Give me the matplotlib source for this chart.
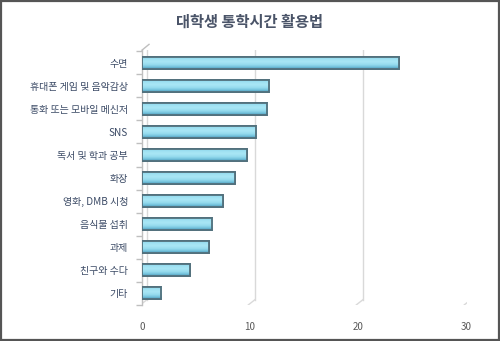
import numpy as np
import matplotlib.pyplot as plt
from matplotlib.patches import Rectangle

plt.rcParams['font.family'] = ['Noto Sans CJK KR', 'DejaVu Sans']

# 통학시간 활용 항목별 응답 (위에서부터)
categories = ['수면', '휴대폰 게임 및 음악감상', '통화 또는 모바일 메신저', 'SNS', '독서 및 학과 공부',
              '화장', '영화, DMB 시청', '음식물 섭취', '과제', '친구와 수다', '기타']
values = [23.8, 11.8, 11.6, 10.6, 9.7, 8.6, 7.5, 6.5, 6.2, 4.4, 1.8]
xticks = [0, 10, 20, 30]

fig = plt.figure(figsize=(5, 3.41), dpi=100)
fig.patch.set_facecolor('white')
fig.add_artist(Rectangle((0.002, 0.003), 0.996, 0.994, transform=fig.transFigure,
                         fill=False, edgecolor='#555555', linewidth=1.6))

ax = fig.add_axes([0.284, 0.106, 0.65, 0.747])
ax.set_xlim(0, 30.1)
ax.set_ylim(10.5, -0.55)

# 뒷벽 격자선과 바닥 사선
depth = 0.45
for t in xticks:
    ax.plot([t + depth, t + depth], [-0.55, 10.28], color='#d9d9d9', lw=1.0, zorder=0)
    ax.plot([t + depth, t - 0.15], [10.28, 10.5], color='#d9d9d9', lw=1.0, zorder=0)
ax.plot([0, depth + 0.2], [-0.55, -0.8], color='#bfbfbf', lw=1.0, clip_on=False)

# 원통 느낌의 막대: 세로 그라데이션을 막대 모양으로 잘라서 채움
grad = np.array([0.85, 0.95, 1.0, 0.95, 0.85, 0.7, 0.55])[:, None]
cmap = plt.matplotlib.colors.LinearSegmentedColormap.from_list('bar', ['#4f9fbf', '#86d2e8', '#a8e6f5'])
h = 0.52
edge = '#52707c'
for i, v in enumerate(values):
    bar = ax.barh(i, v, height=h, color='#8ad4ea', edgecolor=edge, linewidth=1.3, zorder=3)[0]
    im = ax.imshow(grad, cmap=cmap, vmin=0.5, vmax=1.0, aspect='auto',
                   extent=(0, v, i + h / 2, i - h / 2), zorder=4, interpolation='bilinear')
    im.set_clip_path(bar)
    ax.barh(i, v, height=h, fill=False, edgecolor=edge, linewidth=1.3, zorder=5)

ax.set_yticks(range(len(categories)))
ax.set_yticklabels(categories, fontsize=7.2, color='#3c4b66')
ax.set_yticks(np.arange(-0.5, len(categories)), minor=True)
ax.tick_params(axis='y', which='major', length=0, pad=10)
ax.tick_params(axis='y', which='minor', length=4, color='#bfbfbf', width=1)

ax.set_xticks(xticks)
ax.set_xticklabels([str(t) for t in xticks], fontsize=7, color='#595959')
ax.tick_params(axis='x', length=0, pad=12)

for s in ['top', 'right', 'bottom']:
    ax.spines[s].set_visible(False)
ax.spines['left'].set_color('#bfbfbf')
ax.spines['left'].set_linewidth(1.0)

fig.text(0.5, 0.935, '대학생 통학시간 활용법', ha='center', va='center',
         fontsize=11, fontweight='bold', color='#4a5468')

fig.savefig('out.png', dpi=100)
